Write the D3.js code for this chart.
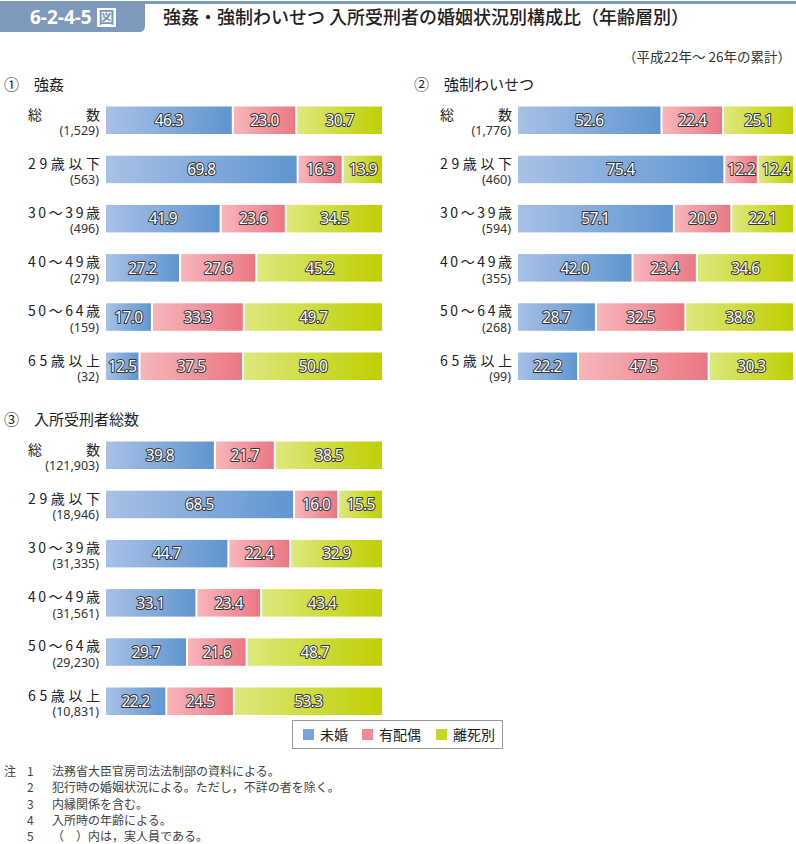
<!DOCTYPE html>
<html><head><meta charset="utf-8">
<script src="https://cdn.jsdelivr.net/npm/d3@7/dist/d3.min.js"></script>
<style>
body{margin:0;background:#fff;}
svg{display:block;font-family:"Noto Sans CJK JP","Noto Sans",sans-serif;}
</style></head>
<body><svg id="c" width="796" height="844"></svg>
<script>
const figNo = "6-2-4-5";
const title = "強姦・強制わいせつ 入所受刑者の婚姻状況別構成比（年齢層別）";
const subtitle = "（平成22年～ 26年の累計）";
const series = ["未婚", "有配偶", "離死別"];
const categories = ["総　　数", "29歳以下", "30～39歳", "40～49歳", "50～64歳", "65歳以上"];

const panelTitles = ["①　強姦", "②　強制わいせつ", "③　入所受刑者総数"];
const counts1 = ["(1,529)", "(563)", "(496)", "(279)", "(159)", "(32)"];
const counts2 = ["(1,776)", "(460)", "(594)", "(355)", "(268)", "(99)"];
const counts3 = ["(121,903)", "(18,946)", "(31,335)", "(31,561)", "(29,230)", "(10,831)"];
const values1 = [[46.3,23.0,30.7],[69.8,16.3,13.9],[41.9,23.6,34.5],[27.2,27.6,45.2],[17.0,33.3,49.7],[12.5,37.5,50.0]];
const values2 = [[52.6,22.4,25.1],[75.4,12.2,12.4],[57.1,20.9,22.1],[42.0,23.4,34.6],[28.7,32.5,38.8],[22.2,47.5,30.3]];
const values3 = [[39.8,21.7,38.5],[68.5,16.0,15.5],[44.7,22.4,32.9],[33.1,23.4,43.4],[29.7,21.6,48.7],[22.2,24.5,53.3]];
const notes = ["法務省大臣官房司法法制部の資料による。","犯行時の婚姻状況による。ただし，不詳の者を除く。","内縁関係を含む。","入所時の年齢による。","（　）内は，実人員である。"];

const svg = d3.select("#c");
const defs = svg.append("defs");
const grads = [["#a8c1e6","#6095d0"],["#f7b6bb","#eb7783"],["#dde87e","#bfcf00"]];
grads.forEach((g,i)=>{
  const lg = defs.append("linearGradient").attr("id","g"+i).attr("x1","0").attr("x2","1").attr("y1","0").attr("y2","0");
  lg.append("stop").attr("offset","0").attr("stop-color",g[0]);
  lg.append("stop").attr("offset","1").attr("stop-color",g[1]);
});

// header
const hb = "#7d99bb";
svg.append("rect").attr("x",140).attr("y",1).attr("width",656).attr("height",3).attr("fill",hb);
svg.append("path").attr("d","M0,1 H145 V26 Q145,32 139,32 H0 Z").attr("fill",hb);
svg.append("text").attr("x",30).attr("y",24).attr("fill","#fff").attr("font-size",19).attr("font-weight",700).attr("font-family","'Noto Sans',sans-serif").text(figNo);
svg.append("rect").attr("x",97).attr("y",8).attr("width",19).attr("height",19).attr("fill","#fff");
svg.append("text").attr("x",106.5).attr("y",23).attr("text-anchor","middle").attr("fill",hb).attr("font-size",16).attr("font-weight",700).text("図");
svg.append("text").attr("x",163).attr("y",24).attr("fill","#222").attr("font-size",18).attr("font-weight",500).text(title);
svg.append("text").attr("x",791).attr("y",62).attr("text-anchor","end").attr("fill","#333").attr("font-size",13.5).text(subtitle);

function panel(tx, ty, labX, barX0, barX1, y0, counts, values, ptitle){
  const parts = ptitle.split("　");
  svg.append("text").attr("x",tx).attr("y",ty).attr("font-size",15).attr("fill","#222").text(parts[0]);
  svg.append("text").attr("x",tx+30).attr("y",ty).attr("font-size",15).attr("fill","#222").text(parts[1]);
  const y = d3.scalePoint().domain(categories).range([y0, y0+49.2*5]);
  const bh = 27.5;
  categories.forEach((c,i)=>{
    const top = y(c);
    svg.append("text").attr("x",labX).attr("y",top+13).attr("font-size",14).attr("fill","#222")
      .attr("textLength",72).attr("lengthAdjust","spacing").text(c);
    svg.append("text").attr("x",labX+71).attr("y",top+28.5).attr("text-anchor","end").attr("font-size",12.5).attr("fill","#333")
      .attr("font-family","'Noto Sans',sans-serif").text(counts[i]);
    const row = values[i];
    const x = d3.scaleLinear().domain([0, d3.sum(row)]).range([barX0, barX1]);
    let acc = 0;
    row.forEach((v,j)=>{
      const xs = x(acc), xe = x(acc+v);
      acc += v;
      const w = (j<2) ? xe-xs-2 : xe-xs;
      svg.append("rect").attr("x",xs).attr("y",top).attr("width",w).attr("height",bh).attr("fill","url(#g"+j+")");
      svg.append("text").attr("x",xs+w/2).attr("y",top+19.5).attr("text-anchor","middle")
        .attr("font-size",15.5).attr("font-family","'Noto Sans',sans-serif").attr("letter-spacing","-0.6")
        .attr("fill","#fff").attr("stroke","#333").attr("stroke-width",2).attr("stroke-linejoin","round")
        .attr("paint-order","stroke").text(v.toFixed(1));
    });
  });
}
panel(4, 90, 28, 106, 382, 106.5, counts1, values1, panelTitles[0]);
panel(414, 90, 440, 518, 793, 106.5, counts2, values2, panelTitles[1]);
panel(4, 425, 28, 106, 382, 441.5, counts3, values3, panelTitles[2]);

// legend
const lg = svg.append("g");
lg.append("rect").attr("x",292.5).attr("y",720.5).attr("width",210).attr("height",28).attr("fill","#fff").attr("stroke","#999").attr("stroke-width",1);
const lx = [303, 362, 436];
series.forEach((s,i)=>{
  lg.append("rect").attr("x",lx[i]).attr("y",729).attr("width",11).attr("height",11).attr("fill",grads[i][1]).attr("opacity",0.85);
  lg.append("text").attr("x",lx[i]+17).attr("y",740).attr("font-size",14).attr("fill","#222").text(s);
});

// notes
svg.append("text").attr("x",4).attr("y",776).attr("font-size",12).attr("fill","#444").text("注");
notes.forEach((n,i)=>{
  const yy = 776 + i*16.3;
  svg.append("text").attr("x",27).attr("y",yy).attr("font-size",12).attr("fill","#444").text(String(i+1));
  svg.append("text").attr("x",52).attr("y",yy).attr("font-size",12).attr("fill","#444").text(n);
});
</script></body></html>
